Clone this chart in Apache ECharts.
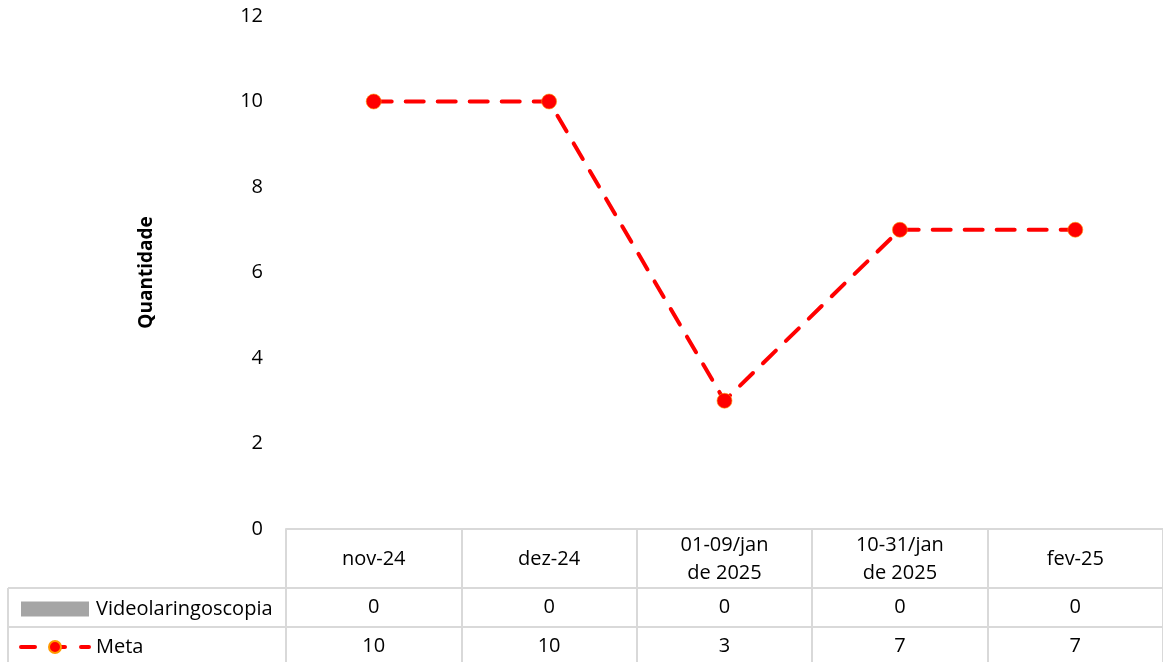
<!DOCTYPE html>
<html><head><meta charset="utf-8">
<script src="https://cdn.jsdelivr.net/npm/echarts@6/dist/echarts.min.js"></script>
<style>html,body{margin:0;padding:0;background:#fff}#c{width:1163px;height:662px}</style>
</head><body><div id="c"></div>
<script>
const categories = ["nov-24", "dez-24", "01-09/jan\nde 2025", "10-31/jan\nde 2025", "fev-25"];
const videoValues = [0, 0, 0, 0, 0];
const metaValues = [10, 10, 3, 7, 7];
const yTicks = [0, 2, 4, 6, 8, 10, 12];

const FONT = "Open Sans";
const FS = 20;
const chart = echarts.init(document.getElementById('c'));
const baseX = {
  type: 'category', gridIndex: 0, position: 'bottom',
  axisLine: {show: false}, axisTick: {show: false}, splitLine: {show: false}
};
chart.setOption({
  animation: false,
  textStyle: {fontFamily: FONT},
  grid: {left: 286, right: 0, top: 16, bottom: 133},
  legend: {
    orient: 'vertical', left: 14, top: 594, itemGap: 18,
    itemWidth: 68, itemHeight: 15,
    textStyle: {fontFamily: FONT, fontSize: FS, color: '#000', padding: [0, 0, 0, 2]},
    data: [
      {name: 'Videolaringoscopia', icon: 'rect'},
      {name: 'Meta', lineStyle: {width: 4, type: [14, 16], cap: 'round', color: '#ff0000'}}
    ]
  },
  xAxis: [
    Object.assign({}, baseX, {
      data: categories,
      axisLine: {show: true, lineStyle: {color: '#d9d9d9', width: 2}},
      axisTick: {show: true, alignWithLabel: false, length: 140, lineStyle: {color: '#d9d9d9', width: 2}},
      axisLabel: {margin: 30, verticalAlign: 'middle', lineHeight: 28, fontSize: FS, color: '#000', interval: 0}
    }),
    Object.assign({}, baseX, {
      data: videoValues.map(String),
      axisLabel: {margin: 78, verticalAlign: 'middle', fontSize: FS, color: '#000', interval: 0}
    }),
    Object.assign({}, baseX, {
      data: metaValues.map(String),
      axisLabel: {margin: 117, verticalAlign: 'middle', fontSize: FS, color: '#000', interval: 0}
    })
  ],
  yAxis: {
    type: 'value', min: 0, max: 12, interval: 2,
    name: 'Quantidade', nameLocation: 'middle', nameRotate: 90, nameGap: 130,
    nameTextStyle: {fontWeight: 'bold', fontSize: 19, color: '#000', fontFamily: FONT},
    axisLine: {show: false}, axisTick: {show: false}, splitLine: {show: false},
    axisLabel: {margin: 23, fontSize: FS, color: '#000',
      formatter: v => yTicks.includes(v) ? String(v) : ''}
  },
  series: [
    {
      name: 'Videolaringoscopia', type: 'bar', xAxisIndex: 0,
      data: videoValues, itemStyle: {color: '#a5a5a5'}
    },
    {
      name: 'Meta', type: 'line', xAxisIndex: 0,
      data: metaValues,
      symbol: 'circle', symbolSize: 15,
      itemStyle: {color: '#ff0000', borderColor: '#ff9900', borderWidth: 0.6},
      lineStyle: {color: '#ff0000', width: 4, type: [18, 14], cap: 'round'}
    }
  ],
  graphic: [
    {type: 'line', shape: {x1: 8, y1: 588, x2: 1163, y2: 588}, style: {stroke: '#d9d9d9', lineWidth: 2}},
    {type: 'line', shape: {x1: 8, y1: 627, x2: 1163, y2: 627}, style: {stroke: '#d9d9d9', lineWidth: 2}},
    {type: 'line', shape: {x1: 8, y1: 588, x2: 8, y2: 662}, style: {stroke: '#d9d9d9', lineWidth: 2}}
  ]
});
</script></body></html>
